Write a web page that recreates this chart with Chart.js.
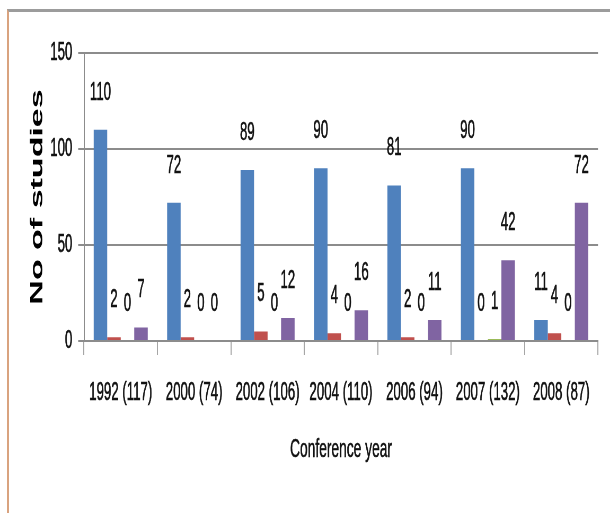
<!DOCTYPE html>
<html>
<head>
<meta charset="utf-8">
<script src="https://cdn.jsdelivr.net/npm/chart.js@4"></script>
<style>
  html, body { margin: 0; padding: 0; background: #fff; overflow: hidden; }
  #wrap { position: relative; width: 610px; height: 513px; overflow: hidden; }
  #frame {
    position: absolute; left: 7px; top: 9px; width: 700px; height: 600px;
    border-top: 3px solid #9c9c9c; border-left: 2px solid #d9a37f;
    box-sizing: border-box;
  }
  /* the chart is laid out wide, then narrowed to give the condensed look */
  #c { position: absolute; left: 0; top: 0; transform: scaleX(0.53); transform-origin: 0 0; }
</style>
</head>
<body>
<div id="wrap">
  <div id="frame"></div>
  <canvas id="c" width="1151" height="513" style="width:1151px;height:513px"></canvas>
</div>
<script>
// Studies per conference year (total in brackets)
const categories = ['1992 (117)', '2000 (74)', '2002 (106)', '2004 (110)', '2006 (94)', '2007 (132)', '2008 (87)'];
const seriesBlue   = [110, 72, 89, 90, 81, 90, 11];
const seriesRed    = [2, 2, 5, 4, 2, 0, 4];
const seriesGreen  = [0, 0, 0, 0, 0, 1, 0];
const seriesPurple = [7, 0, 12, 16, 11, 42, 72];
const yMin = 0, yMax = 150, yStep = 50;
const xTitle = 'Conference year';

const FONT = "'Liberation Sans', Arial, sans-serif";
const INK = '#111';
const HEAVY = 0.6;   // extra stroke so the thin glyphs read a little heavier

function inkText(ctx, t, x, y) {
  ctx.strokeText(t, x, y);
  ctx.fillText(t, x, y);
}

// value labels above every bar (zero-height ones too) and the x-axis caption
const valueLabels = {
  id: 'valueLabels',
  afterDatasetsDraw(chart) {
    const ctx = chart.ctx;
    ctx.save();
    ctx.fillStyle = INK;
    ctx.strokeStyle = INK;
    ctx.lineWidth = HEAVY;
    ctx.lineJoin = 'round';
    ctx.textAlign = 'center';
    ctx.textBaseline = 'middle';
    ctx.font = '25px ' + FONT;
    chart.data.datasets.forEach((ds, i) => {
      chart.getDatasetMeta(i).data.forEach((bar, j) => {
        inkText(ctx, String(ds.data[j]), bar.x, bar.y - 37);
      });
    });
    const xs = chart.scales.x;
    ctx.font = '26px ' + FONT;
    inkText(ctx, xTitle, (xs.left + xs.right) / 2, xs.bottom - 63);
    ctx.restore();
  }
};

new Chart(document.getElementById('c'), {
  type: 'bar',
  data: {
    labels: categories,
    datasets: [
      { label: 'A', data: seriesBlue,   backgroundColor: '#4F81BD' },
      { label: 'B', data: seriesRed,    backgroundColor: '#C0504D' },
      { label: 'C', data: seriesGreen,  backgroundColor: '#9BBB59' },
      { label: 'D', data: seriesPurple, backgroundColor: '#8064A2' }
    ]
  },
  options: {
    responsive: false,
    animation: false,
    devicePixelRatio: 1,
    layout: { padding: { top: 53, left: 0, right: 22.7, bottom: 0 } },
    datasets: { bar: { categoryPercentage: 0.736, barPercentage: 1.0 } },
    plugins: { legend: { display: false }, tooltip: { enabled: false } },
    scales: {
      x: {
        afterFit(scale) { scale.height = 172; },
        grid: { drawOnChartArea: false, drawTicks: true, tickLength: 14, color: '#a6a6a6', lineWidth: 2 },
        border: { display: true, color: '#8c8c8c', width: 2 },
        ticks: { color: INK, font: { family: FONT, size: 25 }, padding: 23, maxRotation: 0, autoSkip: false,
                 textStrokeColor: INK, textStrokeWidth: HEAVY }
      },
      y: {
        min: yMin, max: yMax,
        afterFit(scale) { scale.width = 158.5; },
        grid: { color: '#8c8c8c', lineWidth: 2, drawTicks: true, tickLength: 11 },
        border: { display: true, color: '#8c8c8c', width: 2 },
        ticks: { stepSize: yStep, color: INK, font: { family: FONT, size: 25 }, padding: 11,
                 textStrokeColor: INK, textStrokeWidth: HEAVY },
        title: { display: true, text: 'No of studies', color: '#000',
                 font: { family: FONT, size: 34, weight: 'bold' }, padding: { top: 50, bottom: 0 } }
      }
    }
  },
  plugins: [valueLabels]
});
</script>
</body>
</html>
